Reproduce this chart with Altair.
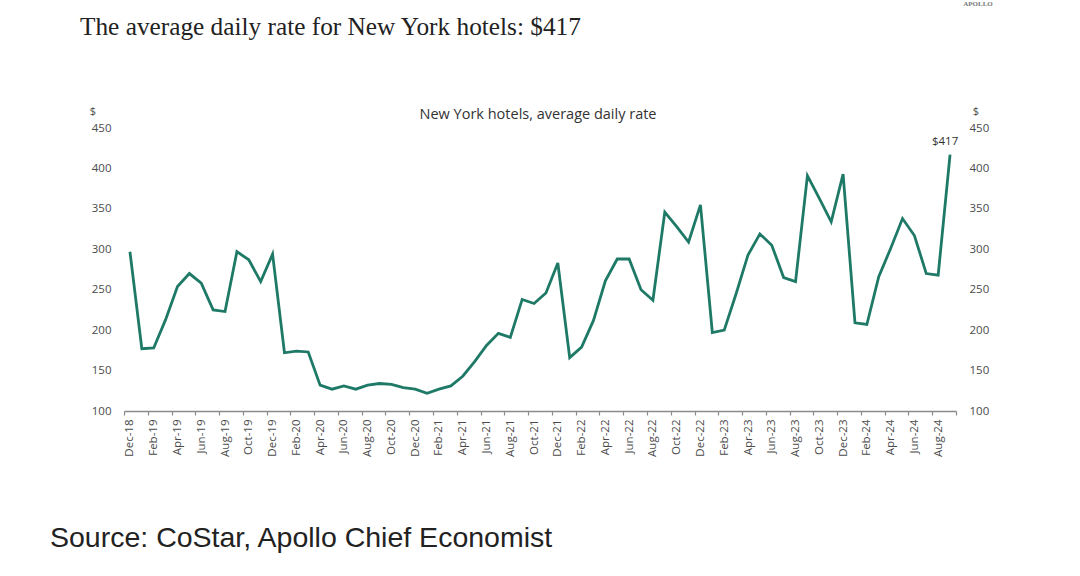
import json

import altair as alt
import pandas as pd

# Monthly average daily rate for New York hotels, Dec-2018 to Sep-2024 (USD)
rates = [
    297,                                                        # 2018: Dec
    177, 178, 213, 254, 270, 258, 225, 223, 297, 287, 260, 294,  # 2019
    172, 174, 173, 132, 127, 131, 127, 132, 134, 133, 129, 127,  # 2020
    122, 127, 131, 143, 161, 181, 196, 191, 238, 233, 246, 283,  # 2021
    166, 179, 212, 261, 288, 288, 250, 237, 346, 328, 309, 355,  # 2022
    197, 200, 245, 293, 319, 305, 265, 260, 391, 363, 334, 393,  # 2023
    209, 207, 266, 301, 338, 317, 270, 268, 417,                # 2024: Jan-Sep
]
months = list(pd.date_range("2018-12-01", periods=len(rates), freq="MS").strftime("%b-%y"))
y_ticks = [100, 150, 200, 250, 300, 350, 400, 450]

title_text = "The average daily rate for New York hotels: $417"
subtitle_text = "New York hotels, average daily rate"
source_text = "Source: CoStar, Apollo Chief Economist"
brand_text = "APOLLO"

n = len(rates)
df = pd.DataFrame({"idx": list(range(n)), "month": months, "rate": rates})

W, H = 832, 283
LINE = "#1e7a66"
LABEL = "#4a4a4a"
SANS = "Open Sans"

# ticks sit on the boundaries between every second month, labels centred in the month
tick_values = [i - 0.5 for i in range(0, n, 2)] + [n - 0.5]
label_expr = f"datum.value < {n - 1} ? {json.dumps(months)}[round(datum.value + 0.5)] : ''"

x_enc = alt.X(
    "idx:Q",
    scale=alt.Scale(domain=[-0.5, n - 0.5], nice=False, zero=False),
    axis=alt.Axis(
        values=tick_values,
        labelExpr=label_expr,
        labelAngle=270,
        labelOffset=W / n / 2,
        labelPadding=4,
        labelFont=SANS,
        labelFontSize=11.5,
        labelColor=LABEL,
        labelOverlap=False,
        labelFlush=False,
        tickSize=4,
        tickColor="#8a8a8a",
        tickWidth=1.2,
        domainColor="#8a8a8a",
        domainWidth=1.5,
        grid=False,
        title=None,
    ),
)

y_scale = alt.Scale(domain=[100, 450], nice=False, zero=False)


def y_axis(orient):
    return alt.Axis(
        orient=orient,
        values=y_ticks,
        domain=False,
        ticks=False,
        grid=False,
        labelPadding=13,
        labelFont=SANS,
        labelFontSize=11.5,
        labelColor=LABEL,
        title=None,
    )


line = alt.Chart(df).mark_line(color=LINE, strokeWidth=2.8, strokeJoin="miter").encode(
    x=x_enc,
    y=alt.Y("rate:Q", scale=y_scale, axis=y_axis("left")),
)

last_label = (
    alt.Chart(df)
    .transform_filter(f"datum.idx == {n - 1}")
    .transform_calculate(label="'$' + datum.rate")
    .mark_text(font=SANS, fontSize=11.5, color="#333333", dx=-5, dy=-13)
    .encode(
        x=x_enc,
        y=alt.Y("rate:Q", scale=y_scale, axis=y_axis("right")),
        text="label:N",
    )
)


def note(text, x, y, **kw):
    return alt.Chart(pd.DataFrame({"t": [text]})).mark_text(**kw).encode(
        text="t:N", x=alt.value(x), y=alt.value(y)
    )


title = note(title_text, -44, -93, font="Liberation Serif", fontSize=25.3,
             color="#222222", align="left", baseline="alphabetic")
brand = note(brand_text, 854, -124, font="Liberation Serif", fontSize=7,
             fontWeight="bold", color="#777777", align="center", baseline="middle")
subtitle = note(subtitle_text, 414, -13, font=SANS, fontSize=14.5,
                color="#333333", align="center", baseline="middle")
dollar_left = note("$", -31, -16, font=SANS, fontSize=11, color=LABEL,
                   align="center", baseline="middle")
dollar_right = note("$", 852, -16, font=SANS, fontSize=11, color=LABEL,
                    align="center", baseline="middle")
source = note(source_text, -74, 410, font="Liberation Sans", fontSize=28.5,
              color="#222222", align="left", baseline="middle")

chart = (
    alt.layer(line, last_label, title, brand, subtitle, dollar_left, dollar_right, source)
    .resolve_axis(y="independent")
    .properties(
        width=W,
        height=H,
        autosize=alt.AutoSizeParams(type="none"),
        padding={"left": 124, "top": 128, "right": 124, "bottom": 165},
        background="white",
    )
    .configure_view(stroke=None)
)

chart.save("out.html", embed_options={"renderer": "svg", "actions": False})
